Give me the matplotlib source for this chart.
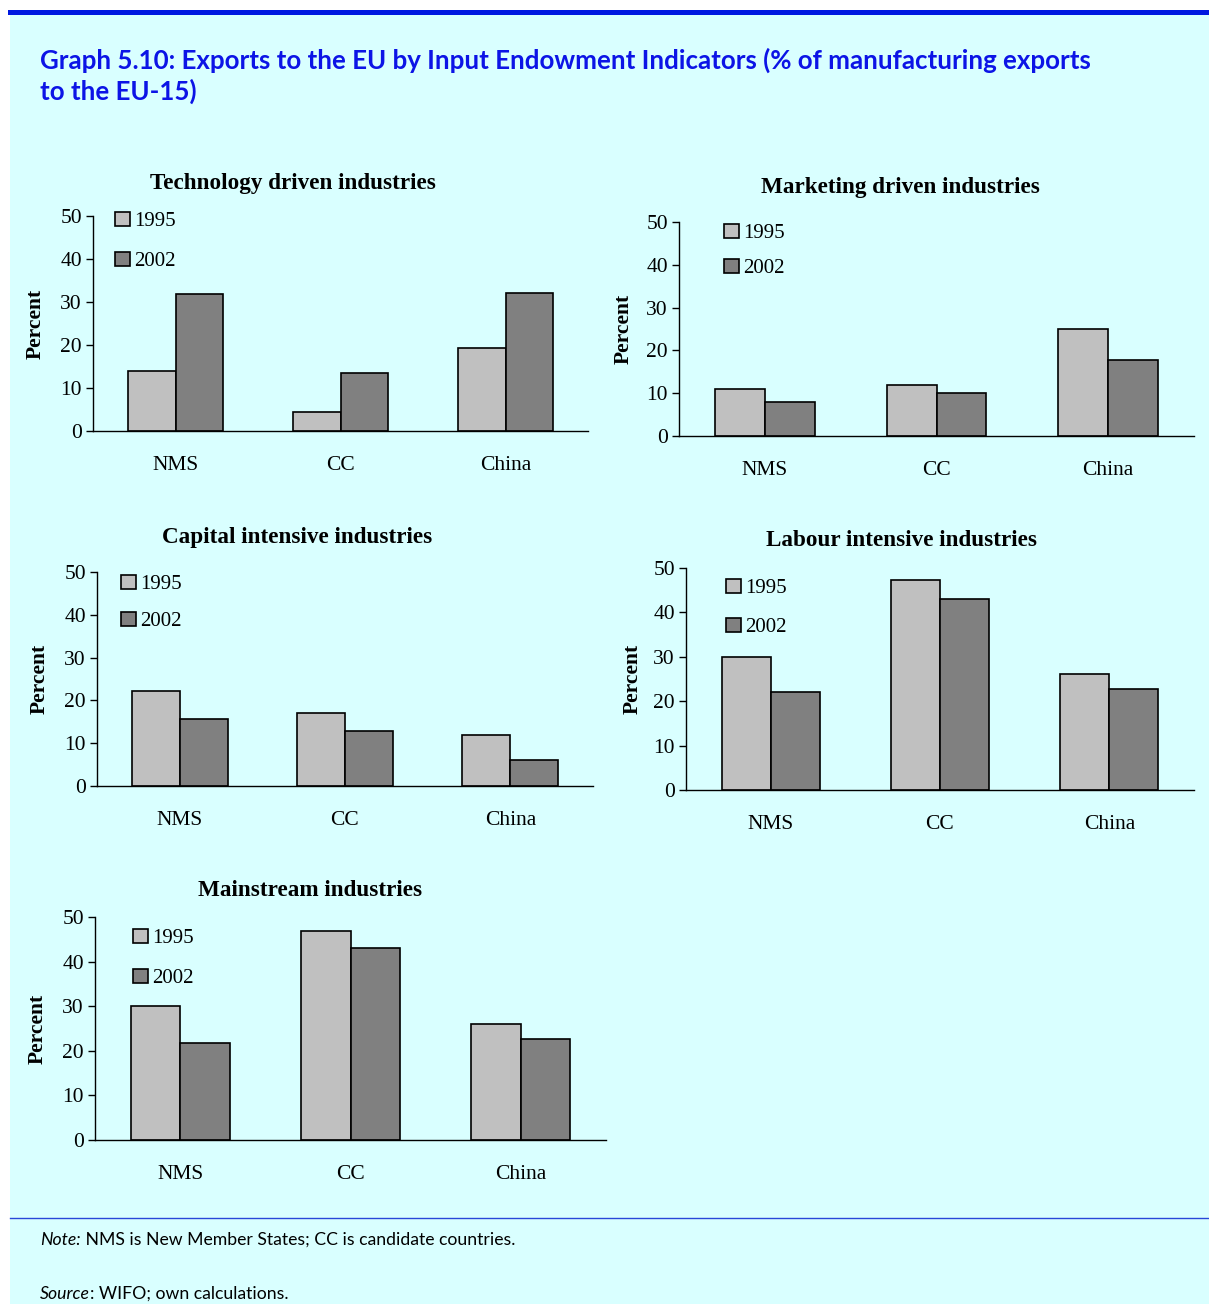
import matplotlib.pyplot as plt
import numpy as np
from matplotlib.patches import Rectangle
from matplotlib.lines import Line2D

W, H = 1209, 1304

countries = ['NMS', 'CC', 'China']
years = ['1995', '2002']

tech_1995 = [14.0, 4.4, 19.3]
tech_2002 = [31.9, 13.5, 32.1]
mkt_1995 = [11.0, 11.9, 25.0]
mkt_2002 = [7.9, 10.0, 17.8]
cap_1995 = [22.2, 17.1, 11.9]
cap_2002 = [15.7, 12.9, 6.1]
lab_1995 = [30.0, 47.2, 26.1]
lab_2002 = [22.0, 43.0, 22.7]
main_1995 = [30.0, 46.9, 26.0]
main_2002 = [21.8, 43.0, 22.6]

titles = ['Technology driven industries', 'Marketing driven industries',
          'Capital intensive industries', 'Labour intensive industries',
          'Mainstream industries']
series = [(tech_1995, tech_2002), (mkt_1995, mkt_2002), (cap_1995, cap_2002),
          (lab_1995, lab_2002), (main_1995, main_2002)]

# axes boxes in pixels: x0, y_top, x1, y_bottom, title x, title y
boxes = [(93, 216, 588, 431, 293, 183),
         (679, 222, 1194, 436, 900, 187),
         (97, 572, 593, 786, 297, 537),
         (686, 568, 1194, 790, 901, 541),
         (95, 917, 606, 1140, 310, 891)]
# ylabel right edge, legend square x, first legend row y, row gap
label_x = [46, 634, 50, 643, 48]
legend_pos = [(115, 221, 39), (724, 233, 34), (121, 584, 36), (726, 588, 38), (133, 938, 39)]

bg = '#d9ffff'
c95 = '#c0c0c0'
c02 = '#808080'
serif = 'Liberation Serif'

fig = plt.figure(figsize=(W / 100, H / 100), dpi=100, facecolor='white')
fig.patches.append(Rectangle((10 / W, 0), 1 - 10 / W, 1 - 13 / H, transform=fig.transFigure,
                             facecolor=bg, edgecolor='none', zorder=-10))
fig.add_artist(Line2D([10 / W, 1], [1 - 11.5 / H, 1 - 11.5 / H], color='#0018e0', lw=3.6))
fig.add_artist(Line2D([10 / W, 1], [1 - 1218 / H, 1 - 1218 / H], color='#2846d8', lw=1.0))


def fx(x):
    return x / W


def fy(y):
    return 1 - y / H


fig.text(fx(40), fy(60), 'Graph 5.10: Exports to the EU by Input Endowment Indicators (% of manufacturing exports',
         fontsize=18.6, fontweight='bold', color='#0c14e6', family='Lato', va='center', ha='left')
fig.text(fx(40), fy(91), 'to the EU-15)',
         fontsize=18.6, fontweight='bold', color='#0c14e6', family='Lato', va='center', ha='left')

x = np.arange(len(countries))
bw = 0.29
fs = 15.5
for (v95, v02), title, (x0, yt, x1, yb, tx, ty), lx, (lgx, lgy, gap) in zip(
        series, titles, boxes, label_x, legend_pos):
    ax = fig.add_axes([fx(x0), fy(yb), (x1 - x0) / W, (yb - yt) / H])
    ax.set_facecolor('none')
    ax.bar(x - bw / 2, v95, bw, color=c95, edgecolor='black', linewidth=1.2, label=years[0])
    ax.bar(x + bw / 2, v02, bw, color=c02, edgecolor='black', linewidth=1.2, label=years[1])
    ax.set_xlim(-0.5, 2.5)
    ax.set_ylim(0, 50)
    ax.set_yticks([0, 10, 20, 30, 40, 50])
    ax.set_xticks(x)
    ax.set_xticklabels(countries)
    for s in ['top', 'right']:
        ax.spines[s].set_visible(False)
    ax.spines['left'].set_linewidth(1.0)
    ax.spines['bottom'].set_linewidth(1.0)
    ax.tick_params(axis='y', direction='out', length=5, width=1, labelsize=fs, pad=3)
    ax.tick_params(axis='x', length=0, labelsize=fs, pad=18)
    for lab in ax.get_xticklabels() + ax.get_yticklabels():
        lab.set_family(serif)
    ax.set_ylabel('Percent', fontsize=fs, fontweight='bold', family=serif)
    ax.yaxis.set_label_coords((lx - x0) / (x1 - x0), 0.5)
    lsz = 15
    row_h = lsz * 100 / 72 * 0.9
    ax.legend(loc='upper left', bbox_to_anchor=(fx(lgx), fy(lgy - row_h / 2)),
              bbox_transform=fig.transFigure, frameon=False, borderpad=0, borderaxespad=0,
              handlelength=0.72, handleheight=0.72, handletextpad=0.2,
              labelspacing=(gap - row_h) / (lsz * 100 / 72), prop={'family': serif, 'size': lsz})
    fig.text(fx(tx), fy(ty), title, fontsize=16.7, fontweight='bold', family=serif,
             ha='center', va='center')

fig.canvas.draw()
r = fig.canvas.get_renderer()
t1 = fig.text(fx(40), fy(1240), 'Note:', fontsize=12.7, style='italic', family='Lato', va='center')
e1 = t1.get_window_extent(r)
fig.text(e1.x1 / W, fy(1240), ' NMS is New Member States; CC is candidate countries.', fontsize=12.7,
         family='Lato', va='center')
t2 = fig.text(fx(40), fy(1294), 'Source', fontsize=12.7, style='italic', family='Lato', va='center')
e2 = t2.get_window_extent(r)
fig.text(e2.x1 / W, fy(1294), ': WIFO; own calculations.', fontsize=12.7, family='Lato', va='center')

plt.savefig('out.png', dpi=100, facecolor=fig.get_facecolor())
